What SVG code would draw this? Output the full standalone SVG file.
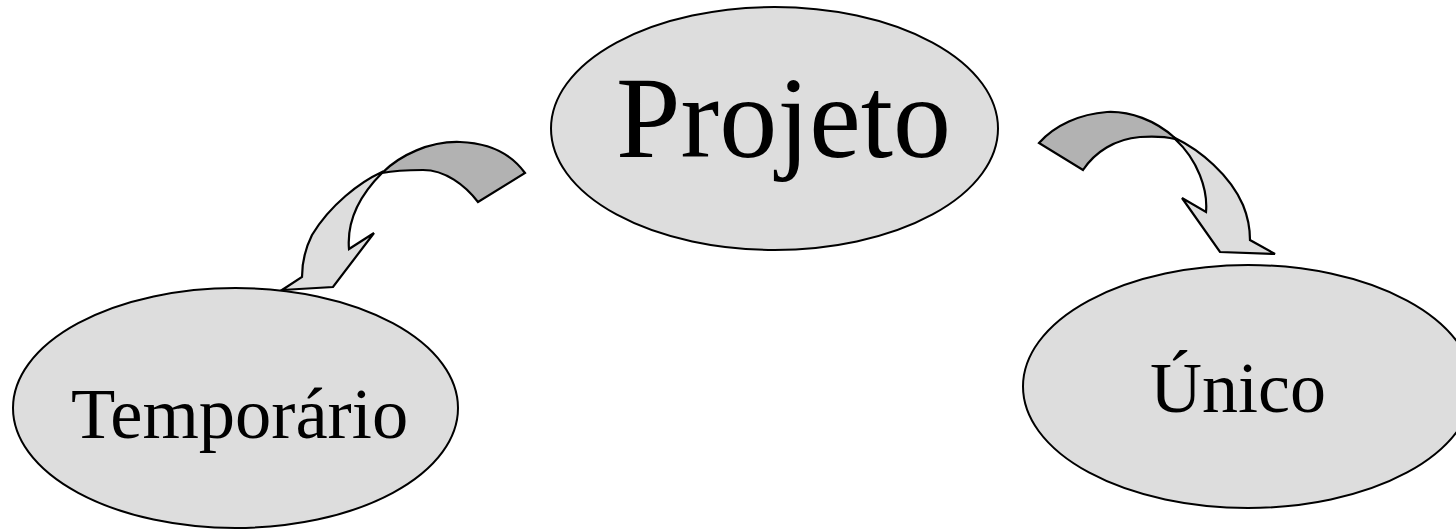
<svg xmlns="http://www.w3.org/2000/svg" width="1456" height="531" viewBox="0 0 1456 531">
<style>
.node{fill:#dddddd;stroke:#000;stroke-width:2}
.lbl{font-family:"Liberation Serif","Times New Roman",serif;fill:#000}
.light{fill:#dddddd;stroke:#000;stroke-width:2.2;stroke-linejoin:miter}
.dark{fill:#b2b2b2;stroke:#000;stroke-width:2.2;stroke-linejoin:miter}
</style>
<rect width="1456" height="531" fill="#fff"/>
<g id="connectors">
<g id="arrow-left">
<path class="light" d="M382,172 C360,182 330,205 312,235 C302,255 302,270 302,277 L282,290 L333,287 L374,233 L349,249 C347,225 355,200 382,173 Z"/>
<path class="dark" d="M382,173 C400,155 430,141 460,142 C490,143 512,155 525,173 L478,202 C465,185 445,170 423,170 C405,170 392,171 382,173 Z"/>
</g>
<g id="arrow-right">
<path class="light" d="M1175,138 C1200,150 1230,175 1243,205 C1250,222 1250,235 1250,240 L1275,254 L1220,252 L1182,198 L1206,212 C1208,190 1198,160 1175,139 Z"/>
<path class="dark" d="M1175,138 C1155,120 1130,111 1107,112 C1080,114 1055,125 1039,143 L1083,170 C1095,152 1115,139 1140,137 C1155,136 1167,137 1175,139 Z"/>
</g>
</g>
<g id="node-projeto">
<ellipse class="node" cx="774.5" cy="128.5" rx="223.5" ry="121.5"/>
<text class="lbl" x="616" y="157" font-size="116">Projeto</text>
</g>
<g id="node-temporario">
<ellipse class="node" cx="235.5" cy="408" rx="222.5" ry="120"/>
<text class="lbl" x="71" y="438" font-size="72.5">Temporário</text>
</g>
<g id="node-unico">
<ellipse class="node" cx="1248" cy="386.5" rx="225" ry="121.5"/>
<text class="lbl" x="1150" y="412" font-size="72">Único</text>
</g>
</svg>
